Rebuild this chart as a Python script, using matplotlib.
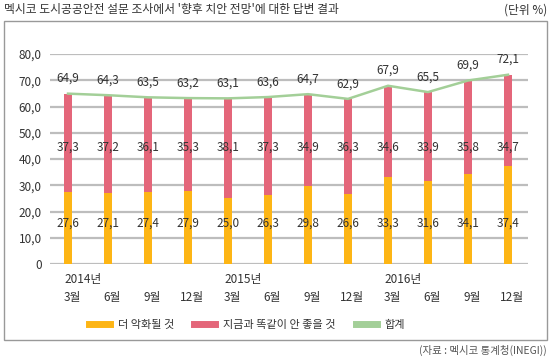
import matplotlib.pyplot as plt
import matplotlib.transforms as mtransforms
from matplotlib.lines import Line2D
from matplotlib.patches import Rectangle

plt.rcParams['font.family'] = ['Noto Sans CJK KR', 'DejaVu Sans']

# data
years = ["2014년", "", "", "", "2015년", "", "", "", "2016년", "", "", ""]
months = ["3월", "6월", "9월", "12월"] * 3
worse = [27.6, 27.1, 27.4, 27.9, 25.0, 26.3, 29.8, 26.6, 33.3, 31.6, 34.1, 37.4]
same_bad = [37.3, 37.2, 36.1, 35.3, 38.1, 37.3, 34.9, 36.3, 34.6, 33.9, 35.8, 34.7]
total = [64.9, 64.3, 63.5, 63.2, 63.1, 63.6, 64.7, 62.9, 67.9, 65.5, 69.9, 72.1]

c_yellow = '#FDB515'
c_red = '#E4667A'
c_green = '#A3CF98'
c_grid = '#BDBDBD'
c_text = '#333333'

W, H = 551, 361
fig = plt.figure(figsize=(W / 100, H / 100), dpi=100)
ax = fig.add_axes([50 / W, 1 - 264 / H, (528 - 50) / W, (264 - 54) / H])

x = list(range(len(total)))
bw = 0.22
ax.bar(x, worse, width=bw, color=c_yellow, zorder=2)
ax.bar(x, same_bad, width=bw, bottom=worse, color=c_red, zorder=2)
ax.plot(x, total, color=c_green, lw=1.8, zorder=3)


def fmt(v):
    return f"{v:.1f}".replace(".", ",")


for i in x:
    ax.text(i, 15.5, fmt(worse[i]), ha='center', va='center', fontsize=8.5, color=c_text, zorder=4)
    ax.text(i, 44.5, fmt(same_bad[i]), ha='center', va='center', fontsize=8.5, color=c_text, zorder=4)
    ax.text(i, total[i] + 5.8, fmt(total[i]), ha='center', va='center', fontsize=8.5, color=c_text, zorder=4)

ax.set_ylim(0, 80)
ax.set_xlim(-0.45, 11.5)
yt = list(range(0, 90, 10))
ax.set_yticks(yt)
ax.set_yticklabels(["0" if v == 0 else fmt(v) for v in yt], fontsize=8.5, color=c_text)
ax.tick_params(axis='y', length=0, pad=6)
ax.set_xticks([])
ax.grid(axis='y', color=c_grid, lw=1.6, zorder=0)
for s in ax.spines.values():
    s.set_visible(False)

# two-row x labels (year / month)
trans = mtransforms.blended_transform_factory(ax.transData, fig.transFigure)
for i in x:
    if years[i]:
        ax.text(i - 0.08, 1 - 280 / H, years[i], transform=trans,
                ha='left', va='center', fontsize=8.5, color=c_text)
    ax.text(i + 0.1, 1 - 297 / H, months[i], transform=trans,
            ha='center', va='center', fontsize=8.5, color=c_text)

handles = [Line2D([], [], color=c, lw=5) for c in (c_yellow, c_red, c_green)]
labels = ["더 악화될 것", "지금과 똑같이 안 좋을 것", "합계"]
fig.legend(handles, labels, loc='center', bbox_to_anchor=(247 / W, 1 - 325 / H), ncol=3,
           frameon=False, fontsize=8, handlelength=1.9, columnspacing=1.8, handletextpad=0.7,
           labelcolor=c_text)

fig.text(4 / W, 1 - 10 / H, "멕시코 도시공공안전 설문 조사에서 '향후 치안 전망'에 대한 답변 결과",
         ha='left', va='center', fontsize=8.5, color=c_text)
fig.text(547 / W, 1 - 10 / H, "(단위 %)", ha='right', va='center', fontsize=8.5, color=c_text)
fig.text(547 / W, 1 - 350 / H, "(자료 : 멕시코 통계청(INEGI))", ha='right', va='center',
         fontsize=7.5, color='#555555')

fig.patches.append(Rectangle((4 / W, 1 - 340 / H), 543 / W, 319 / H, transform=fig.transFigure,
                             fill=False, edgecolor='#999999', lw=1))

fig.savefig("out.png", dpi=100)
